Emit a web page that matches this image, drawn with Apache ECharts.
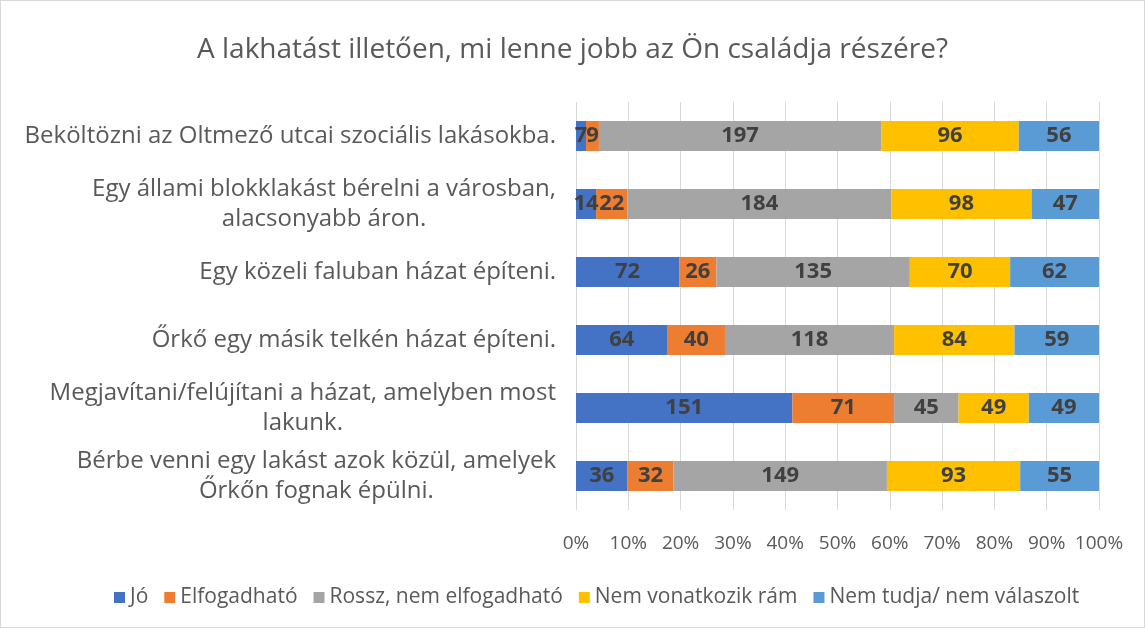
<!DOCTYPE html>
<html>
<head>
<meta charset="utf-8">
<script src="https://cdn.jsdelivr.net/npm/echarts@6/dist/echarts.min.js"></script>
<style>
  html, body { margin: 0; padding: 0; background: #fff; }
  #chart { width: 1145px; height: 628px; box-sizing: border-box; border: 1px solid #d9d9d9; }
</style>
</head>
<body>
<div id="chart"></div>
<script>
// categories, top to bottom
const categories = [
  'Beköltözni az Oltmező utcai szociális lakásokba.',
  'Egy állami blokklakást bérelni a városban,\nalacsonyabb áron.',
  'Egy közeli faluban házat építeni.',
  'Őrkő egy másik telkén házat építeni.',
  'Megjavítani/felújítani a házat, amelyben most\nlakunk.',
  'Bérbe venni egy lakást azok közül, amelyek\nŐrkőn fognak épülni.'
]
const jo = [7, 14, 72, 64, 151, 36]
const elfogadhato = [9, 22, 26, 40, 71, 32]
const rossz = [197, 184, 135, 118, 45, 149]
const nemVonatkozik = [96, 98, 70, 84, 49, 93]
const nemTudja = [56, 47, 62, 59, 49, 55]
const seriesNames = ['Jó', 'Elfogadható', 'Rossz, nem elfogadható', 'Nem vonatkozik rám', 'Nem tudja/ nem válaszolt']
const colors = ['#4472C4', '#ED7D31', '#A5A5A5', '#FFC000', '#5B9BD5']

const all = [jo, elfogadhato, rossz, nemVonatkozik, nemTudja]
const totals = categories.map((c, i) => all.reduce((s, arr) => s + arr[i], 0))

const font = 'Open Sans'
const chart = echarts.init(document.getElementById('chart'))
chart.setOption({
  animation: false,
  textStyle: { fontFamily: font },
  title: {
    text: 'A lakhatást illetően, mi lenne jobb az Ön családja részére?',
    left: 'center',
    top: 30,
    textStyle: { fontFamily: font, fontSize: 28, fontWeight: 'normal', color: '#595959' }
  },
  legend: {
    data: seriesNames,
    bottom: 14,
    left: 108,
    itemWidth: 11,
    itemHeight: 11,
    itemGap: 16,
    icon: 'rect',
    textStyle: { fontFamily: font, fontSize: 21, color: '#595959' }
  },
  grid: { left: 575, right: 45, top: 101, bottom: 117 },
  xAxis: {
    type: 'value',
    min: 0,
    max: 100,
    interval: 10,
    axisLine: { show: false },
    axisTick: { show: false },
    splitLine: { lineStyle: { color: '#d9d9d9', width: 1 } },
    axisLabel: { formatter: '{value}%', fontSize: 19, color: '#595959', margin: 24 }
  },
  yAxis: {
    type: 'category',
    data: categories,
    inverse: true,
    axisLine: { show: false },
    axisTick: { show: false },
    axisLabel: {
      fontSize: 24,
      color: '#595959',
      margin: 20,
      align: 'right',
      formatter: v => v.split('\n').map(s => '{c|' + s + '}').join('\n'),
      rich: { c: { align: 'center', fontSize: 24, color: '#595959', lineHeight: 30, fontFamily: font } }
    }
  },
  series: all.map((arr, k) => ({
    name: seriesNames[k],
    type: 'bar',
    stack: 'total',
    barWidth: 30,
    itemStyle: { color: colors[k] },
    label: {
      show: true,
      position: 'inside',
      fontSize: 22,
      fontWeight: 'bold',
      color: '#404040',
      formatter: p => arr[p.dataIndex]
    },
    data: arr.map((v, i) => v / totals[i] * 100)
  }))
})
</script>
</body>
</html>
